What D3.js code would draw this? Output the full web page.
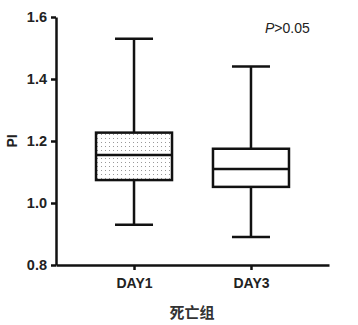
<!DOCTYPE html>
<html>
<head>
<meta charset="utf-8">
<script src="https://cdn.jsdelivr.net/npm/d3@7"></script>
<style>
  body { margin: 0; background: #fff; }
  text { font-family: "Liberation Sans", Arial, sans-serif; }
</style>
</head>
<body>
<div id="chart"></div>
<script>
// data
var groups = ["DAY1", "DAY3"];
var mins = [0.93, 0.89];
var q1s = [1.074, 1.052];
var medians = [1.155, 1.110];
var q3s = [1.227, 1.175];
var maxs = [1.53, 1.44];
var yTicks = [0.8, 1.0, 1.2, 1.4, 1.6];

var svgWidth = 358, svgHeight = 325;
var margin = { top: 17, right: 29, bottom: 60, left: 56 };
var width = svgWidth - margin.left - margin.right;
var height = svgHeight - margin.top - margin.bottom;

var svg = d3.select("#chart").append("svg")
  .attr("width", svgWidth)
  .attr("height", svgHeight);

// dotted fill for first box
var defs = svg.append("defs");
var pat = defs.append("pattern")
  .attr("id", "dots")
  .attr("patternUnits", "userSpaceOnUse")
  .attr("width", 4).attr("height", 4);
pat.append("rect").attr("width", 4).attr("height", 4).attr("fill", "#fff");
pat.append("rect").attr("x", 1).attr("y", 1).attr("width", 1).attr("height", 1).attr("fill", "#999");

var g = svg.append("g")
  .attr("transform", `translate(${margin.left}, ${margin.top})`);

var x = d3.scalePoint().domain(groups).range([0, width]).padding(0.667);
var y = d3.scaleLinear().domain([0.8, 1.6]).range([height, 0]);

var boxW = 76;

var data = groups.map(function(d, i) {
  return { name: d, min: mins[i], q1: q1s[i], med: medians[i], q3: q3s[i], max: maxs[i], i: i };
});

var boxes = g.selectAll(".box").data(data).enter().append("g");

boxes.append("line")
  .attr("x1", d => x(d.name)).attr("x2", d => x(d.name))
  .attr("y1", d => y(d.max)).attr("y2", d => y(d.q3))
  .attr("stroke", "#111").attr("stroke-width", 2.5);
boxes.append("line")
  .attr("x1", d => x(d.name)).attr("x2", d => x(d.name))
  .attr("y1", d => y(d.q1)).attr("y2", d => y(d.min))
  .attr("stroke", "#111").attr("stroke-width", 2.5);
boxes.selectAll(".cap").data(d => [d.min, d.max].map(v => ({ v: v, name: d.name })))
  .enter().append("line")
  .attr("x1", d => x(d.name) - boxW / 4).attr("x2", d => x(d.name) + boxW / 4)
  .attr("y1", d => y(d.v)).attr("y2", d => y(d.v))
  .attr("stroke", "#111").attr("stroke-width", 2.5);
boxes.append("rect")
  .attr("x", d => x(d.name) - boxW / 2)
  .attr("width", boxW)
  .attr("y", d => y(d.q3))
  .attr("height", d => y(d.q1) - y(d.q3))
  .attr("fill", d => d.i === 0 ? "url(#dots)" : "#fff")
  .attr("stroke", "#111").attr("stroke-width", 2.5);
boxes.append("line")
  .attr("x1", d => x(d.name) - boxW / 2).attr("x2", d => x(d.name) + boxW / 2)
  .attr("y1", d => y(d.med)).attr("y2", d => y(d.med))
  .attr("stroke", "#111").attr("stroke-width", 2.5);

// axes
var leftAxis = d3.axisLeft(y).tickValues(yTicks).tickFormat(d3.format(".1f")).tickSize(5).tickSizeOuter(0);
var bottomAxis = d3.axisBottom(x).tickSize(5).tickSizeOuter(0);

var ya = g.append("g").call(leftAxis);
var xa = g.append("g").attr("transform", `translate(0, ${height})`).call(bottomAxis);

[ya, xa].forEach(function(a) {
  a.select(".domain").attr("stroke", "#111").attr("stroke-width", 2.5);
  a.selectAll(".tick line").attr("stroke", "#111").attr("stroke-width", 2.5);
  a.selectAll(".tick text")
    .attr("fill", "#222")
    .style("font-size", "14.5px")
    .style("font-weight", "bold")
    .style("font-family", "'Liberation Sans', Arial, sans-serif");
});
ya.selectAll(".tick text").attr("x", -9);
xa.selectAll(".tick text").attr("y", 13).style("font-size", "14px");

// labels
svg.append("text")
  .attr("transform", `translate(17, ${margin.top + y(1.2)}) rotate(-90)`)
  .attr("text-anchor", "middle")
  .style("font-size", "14px")
  .style("font-weight", "bold")
  .attr("fill", "#222")
  .text("PI");

svg.append("text")
  .attr("x", 192)
  .attr("y", 318)
  .attr("text-anchor", "middle")
  .style("font-size", "15px")
  .style("font-weight", "bold")
  .style("font-family", "'Noto Sans CJK SC', sans-serif")
  .attr("fill", "#333")
  .text("死亡组");

var pt = svg.append("text")
  .attr("x", 265)
  .attr("y", 33)
  .style("font-size", "14px")
  .attr("fill", "#222");
pt.append("tspan").style("font-style", "italic").text("P");
pt.append("tspan").text(">0.05");
</script>
</body>
</html>
